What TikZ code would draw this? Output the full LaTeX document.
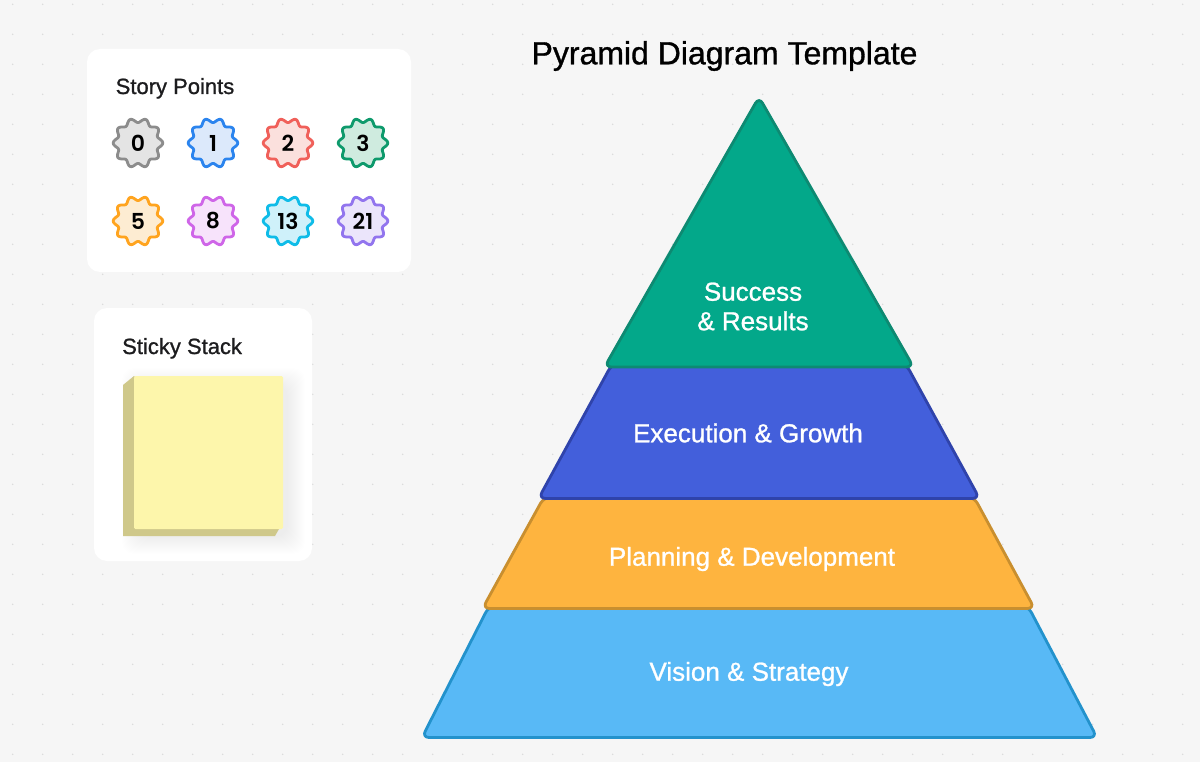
\documentclass[tikz,border=0pt]{standalone}
\usepackage{fontspec}
\setmainfont{Liberation Sans}[FakeBold=1]
\newfontfamily\badgefont{Poppins}[UprightFont=*-SemiBold]
\definecolor{bgc}{HTML}{F6F6F6}
\definecolor{dotc}{HTML}{DADADA}
\definecolor{inkc}{HTML}{1C1C1E}
\definecolor{backc}{HTML}{CFC88A}
\definecolor{frontc}{HTML}{FDF6AB}
\definecolor{gf}{HTML}{03A88A}\definecolor{gs}{HTML}{0D8A72}
\definecolor{if}{HTML}{435FDB}\definecolor{is}{HTML}{2F43AB}
\definecolor{of}{HTML}{FEB43F}\definecolor{os}{HTML}{C98F2F}
\definecolor{bf}{HTML}{58B9F6}\definecolor{bs}{HTML}{2392CC}
\definecolor{f0}{HTML}{E4E4E4}\definecolor{s0}{HTML}{8C8C8C}
\definecolor{f1}{HTML}{DCE9FB}\definecolor{s1}{HTML}{2B84EE}
\definecolor{f2}{HTML}{FBE0DD}\definecolor{s2}{HTML}{F0605A}
\definecolor{f3}{HTML}{CFEBDF}\definecolor{s3}{HTML}{0E9A6C}
\definecolor{f5}{HTML}{FDECD2}\definecolor{s5}{HTML}{FFA41F}
\definecolor{f8}{HTML}{F7E3FB}\definecolor{s8}{HTML}{CF66E8}
\definecolor{f13}{HTML}{CFF1FA}\definecolor{s13}{HTML}{0FBCE8}
\definecolor{f21}{HTML}{EBE5FB}\definecolor{s21}{HTML}{9275EE}
\tikzset{
  layer/.style={line width=2.8pt,rounded corners=7pt,line join=round},
  layertext/.style={text=white,font=\fontsize{26}{30}\selectfont,align=center,inner sep=0pt},
  cardtitle/.style={text=inkc,font=\fontsize{22}{25}\selectfont,anchor=base west,inner sep=0pt},
  badgetext/.style={text=black,font=\badgefont\fontsize{22}{24}\selectfont,inner sep=0pt},
}
% soft shadow: stacked translucent rounded rectangles
\newcommand{\softcard}[4]{%
  \foreach \g in {15,14,...,1}{%
    \fill[black,opacity=0.0016,rounded corners=14pt]
      ({#1-\g},{#2-\g+3}) rectangle ({#3+\g},{#4+\g+3});}
  \fill[white,rounded corners=13pt] (#1,#2) rectangle (#3,#4);}
% badge: centre x, centre y, fill, stroke, name, label
\newcommand{\badge}[6]{%
  \filldraw[fill=#3,draw=#4,line width=2.8pt,line join=round]
    plot[domain=0:359,samples=120,smooth cycle] ({#1+(22.6+2.2*cos(10*\x))*cos(\x)},{#2+(22.6+2.2*cos(10*\x))*sin(\x)});
  \node[badgetext] (#5) at (#1,#2) {#6};}
\begin{document}
\begin{tikzpicture}[x=1pt,y=-1pt]
\useasboundingbox (0,0) rectangle (1200,762);
\fill[bgc] (0,0) rectangle (1200,762);
\foreach \i in {0,...,39}{\foreach \j in {0,...,25}{
  \fill[dotc] ({12.7+30*\i},{4.3+30*\j}) circle (0.8);}}

% cards
\softcard{87}{49}{411}{272}
\softcard{94}{308}{312}{561}
\node[cardtitle] (storytitle) at (115.5,94) {Story Points};
\node[cardtitle] (stickytitle) at (122,354) {Sticky Stack};

% badges
\badge{138}{143}{f0}{s0}{b0}{0}
\badge{213}{143}{f1}{s1}{b1}{1}
\badge{288}{143}{f2}{s2}{b2}{2}
\badge{363}{143}{f3}{s3}{b3}{3}
\badge{138}{221}{f5}{s5}{b5}{5}
\badge{213}{221}{f8}{s8}{b8}{8}
\badge{288}{221}{f13}{s13}{b13}{13}
\badge{363}{221}{f21}{s21}{b21}{21}

% sticky stack
\foreach \g in {18,17,...,1}{
  \fill[black,opacity=0.003,rounded corners=12pt] ({134-\g+6},{376-\g+10}) rectangle ({283+\g+4},{530+\g+6});}
\fill[backc] (123,385) -- (134,376) -- (279,529) -- (275,536) -- (123,536) -- cycle;
\fill[frontc,rounded corners=1.5pt] (134,376) rectangle (283,529);

% pyramid
\draw[layer,fill=bf,draw=bs] (489,606) -- (1028,606) -- (1097,737.5) -- (422,737.5) -- cycle;
\draw[layer,fill=of,draw=os] (544,497) -- (974,497) -- (1034.5,608.5) -- (482.5,608.5) -- cycle;
\draw[layer,fill=if,draw=is] (612,364) -- (906,364) -- (979.5,498.5) -- (538.5,498.5) -- cycle;
\draw[layer,fill=gf,draw=gs] (759,97) -- (913.5,367) -- (604.5,367) -- cycle;

\node[layertext] (success) at (753,306.5) {Success\\[-0.5pt]\& Results};
\node[layertext] (execution) at (748,433) {Execution \& Growth};
\node[layertext] (planning) at (752,559) {Planning \& Development};
\node[layertext] (vision) at (749,674) {Vision \& Strategy};
\node[text=black,font=\fontsize{32}{36}\selectfont,inner sep=0pt] (title) at (724.5,56) {Pyramid Diagram Template};
\end{tikzpicture}
\end{document}
